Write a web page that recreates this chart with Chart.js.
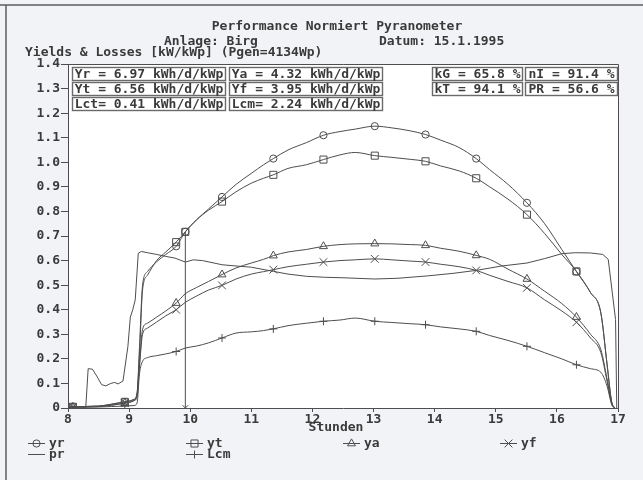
<!DOCTYPE html>
<html>
<head>
<meta charset="utf-8">
<script src="https://cdn.jsdelivr.net/npm/chart.js@4.4.1/dist/chart.umd.min.js"></script>
<style>
html,body{margin:0;padding:0;background:#f2f3f6;}
#wrap{position:relative;width:643px;height:480px;}
</style>
</head>
<body>
<div id="wrap"><canvas id="c"></canvas></div>
<script>
// ---------- texts ----------
const chartTitle = "Performance Normiert Pyranometer";
const plantLabel = "Anlage: Birg";
const dateLabel = "Datum: 15.1.1995";
const yAxisTitle = "Yields & Losses [kW/kWp] (Pgen=4134Wp)";
const xAxisTitle = "Stunden";
const statsLeft = [
  ["Yr = 6.97 kWh/d/kWp", "Ya = 4.32 kWh/d/kWp"],
  ["Yt = 6.56 kWh/d/kWp", "Yf = 3.95 kWh/d/kWp"],
  ["Lct= 0.41 kWh/d/kWp", "Lcm= 2.24 kWh/d/kWp"]
];
const statsRight = [
  ["kG = 65.8 %", "nI = 91.4 %"],
  ["kT = 94.1 %", "PR = 56.6 %"]
];
const seriesNames = ["yr", "yt", "ya", "yf", "pr", "Lcm"];

// ---------- data (hours of day, kW/kWp) ----------
const yieldHours = [8.0, 8.08, 8.5, 8.93, 9.08, 9.13, 9.17, 9.22, 9.3, 9.45, 9.6, 9.77, 9.92, 10.1, 10.3, 10.52, 10.75, 11.0, 11.2, 11.36, 11.6, 11.9, 12.18, 12.45, 12.7, 13.02, 13.3, 13.6, 13.85, 14.1, 14.4, 14.68, 14.9, 15.2, 15.51, 15.8, 16.08, 16.32, 16.55, 16.72, 16.82, 16.9, 16.95];
const yrValues  = [0.003, 0.005, 0.008, 0.025, 0.035, 0.06, 0.25, 0.50, 0.555, 0.595, 0.625, 0.658, 0.717, 0.765, 0.81, 0.859, 0.91, 0.955, 0.99, 1.015, 1.05, 1.08, 1.110, 1.125, 1.135, 1.147, 1.14, 1.128, 1.113, 1.09, 1.06, 1.015, 0.97, 0.91, 0.835, 0.75, 0.645, 0.555, 0.47, 0.386, 0.18, 0.02, 0.0];
const ytValues  = [0.003, 0.005, 0.008, 0.025, 0.035, 0.06, 0.22, 0.48, 0.54, 0.60, 0.635, 0.675, 0.717, 0.765, 0.805, 0.84, 0.88, 0.915, 0.935, 0.949, 0.975, 0.99, 1.011, 1.03, 1.04, 1.027, 1.02, 1.012, 1.004, 0.985, 0.965, 0.935, 0.90, 0.85, 0.787, 0.71, 0.625, 0.556, 0.47, 0.386, 0.18, 0.02, 0.0];
const yaValues  = [0.003, 0.004, 0.006, 0.02, 0.03, 0.05, 0.18, 0.32, 0.345, 0.37, 0.395, 0.427, 0.465, 0.49, 0.515, 0.543, 0.57, 0.59, 0.605, 0.620, 0.635, 0.645, 0.658, 0.665, 0.668, 0.669, 0.668, 0.665, 0.662, 0.65, 0.638, 0.621, 0.605, 0.565, 0.525, 0.475, 0.425, 0.370, 0.30, 0.237, 0.12, 0.02, 0.0];
const yfValues  = [0.003, 0.004, 0.006, 0.02, 0.03, 0.05, 0.17, 0.30, 0.325, 0.35, 0.375, 0.400, 0.43, 0.455, 0.48, 0.499, 0.525, 0.545, 0.555, 0.563, 0.575, 0.585, 0.594, 0.60, 0.603, 0.607, 0.603, 0.598, 0.594, 0.585, 0.575, 0.560, 0.54, 0.515, 0.489, 0.44, 0.395, 0.349, 0.285, 0.225, 0.11, 0.015, 0.0];
const lcmValues = [0.002, 0.003, 0.004, 0.008, 0.01, 0.02, 0.14, 0.19, 0.205, 0.213, 0.22, 0.230, 0.244, 0.252, 0.265, 0.285, 0.305, 0.31, 0.315, 0.322, 0.335, 0.345, 0.353, 0.358, 0.366, 0.353, 0.348, 0.343, 0.339, 0.33, 0.322, 0.312, 0.295, 0.275, 0.251, 0.225, 0.20, 0.176, 0.16, 0.145, 0.09, 0.012, 0.0];
const prHours  = [8.0, 8.29, 8.33, 8.4, 8.47, 8.55, 8.62, 8.7, 8.76, 8.82, 8.9, 8.98, 9.02, 9.06, 9.1, 9.15, 9.2, 9.3, 9.45, 9.6, 9.75, 9.92, 10.05, 10.2, 10.52, 10.75, 11.0, 11.36, 11.6, 11.9, 12.2, 12.5, 13.02, 13.4, 13.9, 14.3, 14.68, 15.1, 15.51, 15.8, 16.08, 16.3, 16.55, 16.75, 16.84, 16.96, 16.98];
const prValues = [0, 0, 0.16, 0.158, 0.13, 0.095, 0.09, 0.1, 0.104, 0.098, 0.11, 0.25, 0.37, 0.40, 0.44, 0.63, 0.637, 0.632, 0.625, 0.617, 0.61, 0.594, 0.603, 0.60, 0.583, 0.578, 0.573, 0.556, 0.545, 0.536, 0.532, 0.53, 0.525, 0.528, 0.538, 0.548, 0.560, 0.578, 0.59, 0.608, 0.628, 0.632, 0.631, 0.625, 0.605, 0.36, 0];
const markerHours = [8.08, 8.93, 9.77, 10.52, 11.36, 12.18, 13.02, 13.85, 14.68, 15.51, 16.32];
const cursorHour = 9.92;
const xTickValues = [8, 9, 10, 11, 12, 13, 14, 15, 16, 17];

// ---------- styles ----------
const INK = '#3a3a3a';
const LINE = '#4e4e4e';
const FAMILY = '"DejaVu Sans Mono", "Liberation Mono", monospace';
const FONT = 'bold 13px ' + FAMILY;

const toXY = (hs, vs) => hs.map((h, i) => ({x: h, y: vs[i]}));
const cursorTop = yrValues[yieldHours.indexOf(cursorHour)];
const markerRadius = (r, withCursor) => (ctx) => {
  const h = ctx.raw && ctx.raw.x;
  if (markerHours.includes(h)) return r;
  if (withCursor && h === cursorHour) return r;
  return 0;
};

function lineDS(label, data, style, r, slot, withCursor) {
  return {
    label, data,
    borderColor: LINE, backgroundColor: 'rgba(0,0,0,0)',
    borderWidth: 1,
    pointStyle: style || false,
    pointRadius: style ? markerRadius(r, withCursor) : 0,
    pointBorderColor: LINE, pointBackgroundColor: 'rgba(0,0,0,0)',
    pointBorderWidth: 1,
    cubicInterpolationMode: 'monotone',
    legendSlot: slot, legendRadius: r
  };
}

const datasets = [
  lineDS(seriesNames[0], toXY(yieldHours, yrValues), 'circle', 3.6, [0, 0], true),
  lineDS(seriesNames[1], toXY(yieldHours, ytValues), 'rect', 5, [1, 0], true),
  lineDS(seriesNames[2], toXY(yieldHours, yaValues), 'triangle', 4.6, [2, 0], false),
  lineDS(seriesNames[3], toXY(yieldHours, yfValues), 'crossRot', 5.5, [3, 0], false),
  Object.assign(lineDS(seriesNames[4], toXY(prHours, prValues), null, 0, [0, 1], false), {cubicInterpolationMode: 'default', tension: 0}),
  lineDS(seriesNames[5], toXY(yieldHours, lcmValues), 'cross', 4, [1, 1], false),
  {
    label: 'cursor',
    data: [{x: cursorHour, y: 0}, {x: cursorHour, y: cursorTop}],
    borderColor: LINE, borderWidth: 1, backgroundColor: 'rgba(0,0,0,0)',
    pointStyle: 'crossRot', pointRadius: [4, 0], pointBorderColor: LINE, pointBorderWidth: 1
  }
];

const decorPlugin = {
  id: 'decor',
  beforeDraw(chart) {
    const {ctx, chartArea: a} = chart;
    ctx.save();
    ctx.fillStyle = '#f2f3f6';
    ctx.fillRect(0, 0, chart.width, chart.height);
    ctx.fillStyle = '#ffffff';
    ctx.fillRect(a.left, a.top, a.right - a.left, a.bottom - a.top);
    ctx.strokeStyle = '#5e5e5e';
    ctx.lineWidth = 1.5;
    ctx.beginPath();
    ctx.moveTo(0, 5); ctx.lineTo(chart.width, 5);
    ctx.moveTo(6, 5); ctx.lineTo(6, chart.height);
    ctx.stroke();
    ctx.restore();
  },
  afterDraw(chart) {
    const {ctx, chartArea: a} = chart;
    ctx.save();
    // plot frame (top / right)
    ctx.strokeStyle = LINE; ctx.lineWidth = 1;
    ctx.beginPath();
    ctx.moveTo(a.left, a.top + 0.5); ctx.lineTo(a.right + 0.5, a.top + 0.5); ctx.lineTo(a.right + 0.5, a.bottom);
    ctx.stroke();
    // titles
    ctx.fillStyle = INK; ctx.font = FONT; ctx.textBaseline = 'middle';
    ctx.textAlign = 'center';
    ctx.fillText(chartTitle, 337, 27);
    ctx.fillText(xAxisTitle, 336, 428);
    ctx.textAlign = 'left';
    ctx.fillText(plantLabel, 164, 42);
    ctx.fillText(dateLabel, 379, 42);
    ctx.fillText(yAxisTitle, 25, 53);
    // stat boxes
    const rowsTop = [67, 82, 97], bh = 14;
    const drawBox = (x0, x1, y0, txt) => {
      ctx.fillStyle = '#ffffff';
      ctx.fillRect(x0, y0, x1 - x0, bh);
      ctx.strokeStyle = '#6a6a6a'; ctx.lineWidth = 1.4;
      ctx.strokeRect(x0 + 0.5, y0 + 0.5, x1 - x0 - 1, bh - 1);
      ctx.fillStyle = INK; ctx.textAlign = 'center';
      ctx.fillText(txt, (x0 + x1) / 2, y0 + bh / 2 + 0.5);
    };
    const leftCols = [[72, 226], [229, 383]];
    const rightCols = [[432, 523], [525, 618]];
    statsLeft.forEach((row, r) => row.forEach((t, c) => drawBox(leftCols[c][0], leftCols[c][1], rowsTop[r], t)));
    statsRight.forEach((row, r) => row.forEach((t, c) => drawBox(rightCols[c][0], rightCols[c][1], rowsTop[r], t)));
    // legend grid
    const cols = [28, 186, 343, 500], rows = [443, 454];
    chart.data.datasets.forEach(ds => {
      if (!ds.legendSlot) return;
      const x0 = cols[ds.legendSlot[0]], y = rows[ds.legendSlot[1]];
      ctx.strokeStyle = LINE; ctx.lineWidth = 1;
      ctx.beginPath(); ctx.moveTo(x0, y + 0.5); ctx.lineTo(x0 + 17, y + 0.5); ctx.stroke();
      if (ds.pointStyle && Chart.helpers && Chart.helpers.drawPoint) {
        ctx.fillStyle = 'rgba(0,0,0,0)';
        Chart.helpers.drawPoint(ctx, {pointStyle: ds.pointStyle, radius: ds.legendRadius, rotation: 0, borderWidth: 1}, x0 + 8.5, y + 0.5);
      }
      ctx.fillStyle = INK; ctx.textAlign = 'left';
      ctx.fillText(ds.label, x0 + 21, y + 0.5);
    });
    ctx.restore();
  }
};

new Chart(document.getElementById('c'), {
  type: 'line',
  data: {datasets},
  options: {
    responsive: true,
    maintainAspectRatio: false,
    animation: false,
    devicePixelRatio: 1,
    parsing: true,
    layout: {padding: {top: 64, left: 0, right: 25, bottom: 52}},
    plugins: {legend: {display: false}, title: {display: false}, tooltip: {enabled: false}},
    elements: {line: {borderJoinStyle: 'round'}},
    scales: {
      x: {
        type: 'linear', min: 8, max: 17,
        afterFit(s) { s.height = 20; },
        afterBuildTicks(s) { s.ticks = xTickValues.map(v => ({value: v})); },
        ticks: {color: INK, font: {family: FAMILY, size: 13, weight: 'bold', lineHeight: 1}, padding: 1, maxRotation: 0, autoSkip: false,
          callback: v => String(v)},
        grid: {drawOnChartArea: false, drawTicks: true, tickLength: 4, color: LINE},
        border: {display: true, color: LINE, width: 1}
      },
      y: {
        type: 'linear', min: 0, max: 1.4,
        afterFit(s) { s.width = 68; },
        ticks: {stepSize: 0.1, color: INK, font: {family: FAMILY, size: 13, weight: 'bold'}, padding: 1,
          callback: v => (Math.abs(v) < 1e-9 ? '0' : v.toFixed(1))},
        grid: {drawOnChartArea: false, drawTicks: true, tickLength: 7, color: LINE},
        border: {display: true, color: LINE, width: 1}
      }
    }
  },
  plugins: [decorPlugin]
});
</script>
</body>
</html>
